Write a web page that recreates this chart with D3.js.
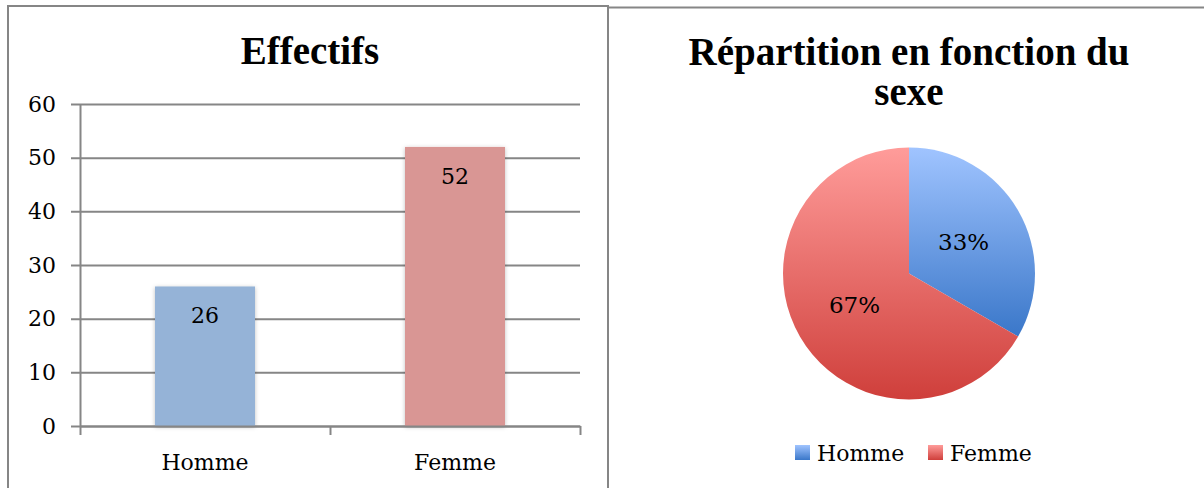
<!DOCTYPE html>
<html>
<head>
<meta charset="utf-8">
<script src="https://cdn.jsdelivr.net/npm/d3@7"></script>
<style>
  body { margin: 0; background: #fff; }
  text { font-family: "DejaVu Serif", serif; }
  .title { font-family: "Liberation Serif", "Times New Roman", serif; }
</style>
</head>
<body>
<script>
// data
var categories = ["Homme", "Femme"];
var effectifs = [26, 52];
var yTicks = [0, 10, 20, 30, 40, 50, 60];
var barColors = ["#95B3D7", "#D99694"];
var pieTop = ["#A0C4FF", "#FF9C9A"];
var pieBottom = ["#3A77C9", "#CF3F3B"];

var width = 1204, height = 488;
var labelSize = "22px";

var svg = d3.select("body").append("svg")
  .attr("width", width)
  .attr("height", height);

var defs = svg.append("defs");

// shadow under the bars
var shadow = defs.append("filter").attr("id", "shadow")
  .attr("x", "-10%").attr("y", "-10%").attr("width", "120%").attr("height", "120%");
shadow.append("feDropShadow")
  .attr("dx", 0).attr("dy", 1)
  .attr("stdDeviation", 2)
  .attr("flood-color", "#000")
  .attr("flood-opacity", 0.25);

// gradients for pie and legend
categories.forEach(function(c, i) {
  var g = defs.append("linearGradient").attr("id", "grad" + i)
    .attr("x1", 0).attr("y1", 0).attr("x2", 0).attr("y2", 1);
  g.append("stop").attr("offset", "0%").attr("stop-color", pieTop[i]);
  g.append("stop").attr("offset", "100%").attr("stop-color", pieBottom[i]);
});

// panel frames
svg.append("path")
  .attr("d", "M8,492 L8,6 L608,6 L608,492")
  .attr("fill", "none").attr("stroke", "#868686").attr("stroke-width", 2);
svg.append("path")
  .attr("d", "M608,7.5 L1210,7.5")
  .attr("fill", "none").attr("stroke", "#868686").attr("stroke-width", 2);

// ---------- bar chart ----------
var x0 = 80, x1 = 580, yZero = 426, yTop = 104;

var xScale = d3.scaleBand()
  .domain(categories)
  .range([x0, x1])
  .paddingInner(0.6)
  .paddingOuter(0.3);

var yScale = d3.scaleLinear()
  .domain([0, 60])
  .range([yZero, yTop]);

svg.append("text")
  .attr("class", "title")
  .attr("x", 310).attr("y", 64)
  .attr("text-anchor", "middle")
  .style("font-size", "39px").style("font-weight", "bold")
  .text("Effectifs");

// gridlines and y axis
var yAxis = d3.axisLeft(yScale)
  .tickValues(yTicks)
  .tickSize(-(x1 - x0))
  .tickSizeOuter(0)
  .tickPadding(24);

var gy = svg.append("g")
  .attr("transform", "translate(" + x0 + ",0)")
  .call(yAxis);
gy.select(".domain").attr("stroke", "#868686").attr("stroke-width", 2);
gy.selectAll(".tick line")
  .attr("x1", -9)
  .attr("stroke", "#868686").attr("stroke-width", 2);
gy.selectAll(".tick text")
  .style("font-size", labelSize).style("font-family", "DejaVu Serif")
  .attr("fill", "#000");

// bars
svg.selectAll("rect.bar")
  .data(effectifs)
  .enter()
  .append("rect")
  .attr("class", "bar")
  .attr("x", function(d, i) { return xScale(categories[i]); })
  .attr("y", function(d) { return yScale(d); })
  .attr("width", xScale.bandwidth())
  .attr("height", function(d) { return yZero - yScale(d); })
  .attr("fill", function(d, i) { return barColors[i]; })
  .attr("filter", "url(#shadow)");

// bar value labels
svg.selectAll("text.val")
  .data(effectifs)
  .enter()
  .append("text")
  .attr("class", "val")
  .attr("x", function(d, i) { return xScale(categories[i]) + xScale.bandwidth() / 2; })
  .attr("y", function(d) { return yScale(d) + 37; })
  .attr("text-anchor", "middle")
  .style("font-size", labelSize)
  .text(function(d) { return d; });

// x axis
var xAxisLine = d3.scaleLinear().domain([0, 2]).range([x0, x1]);
var gx = svg.append("g")
  .attr("transform", "translate(0," + yZero + ")")
  .call(d3.axisBottom(xAxisLine).tickValues([0, 1, 2]).tickSize(9).tickSizeOuter(0).tickFormat(""));
gx.select(".domain").attr("stroke", "#868686").attr("stroke-width", 2);
gx.selectAll(".tick line").attr("stroke", "#868686").attr("stroke-width", 2);

svg.selectAll("text.cat")
  .data(categories)
  .enter()
  .append("text")
  .attr("class", "cat")
  .attr("x", function(d) { return xScale(d) + xScale.bandwidth() / 2; })
  .attr("y", 470)
  .attr("text-anchor", "middle")
  .style("font-size", labelSize)
  .text(function(d) { return d; });

// ---------- pie chart ----------
var cx = 909, cy = 273.5, radius = 126;

svg.append("text")
  .attr("class", "title")
  .attr("x", cx).attr("y", 65)
  .attr("text-anchor", "middle")
  .style("font-size", "39px").style("font-weight", "bold")
  .text("Répartition en fonction du");
svg.append("text")
  .attr("class", "title")
  .attr("x", cx).attr("y", 105)
  .attr("text-anchor", "middle")
  .style("font-size", "39px").style("font-weight", "bold")
  .text("sexe");

var total = d3.sum(effectifs);
var pie = d3.pie().sort(null)(effectifs);
var arc = d3.arc().innerRadius(0).outerRadius(radius);

var gp = svg.append("g").attr("transform", "translate(" + cx + "," + cy + ")");

gp.selectAll("path")
  .data(pie)
  .enter()
  .append("path")
  .attr("d", arc)
  .attr("fill", function(d, i) { return "url(#grad" + i + ")"; });

gp.selectAll("text")
  .data(pie)
  .enter()
  .append("text")
  .attr("transform", function(d) {
    var c = arc.centroid(d);
    return "translate(" + c[0] + "," + c[1] + ")";
  })
  .attr("text-anchor", "middle")
  .attr("dy", "0.35em")
  .style("font-size", "23px")
  .text(function(d) { return Math.round(d.value / total * 100) + "%"; });

// legend
var legendX = [795, 928];
var lg = svg.selectAll("g.legend")
  .data(categories)
  .enter()
  .append("g")
  .attr("class", "legend")
  .attr("transform", function(d, i) { return "translate(" + legendX[i] + ",445)"; });

lg.append("rect")
  .attr("width", 15).attr("height", 15)
  .attr("fill", function(d, i) { return "url(#grad" + i + ")"; });

lg.append("text")
  .attr("x", 22).attr("y", 16)
  .style("font-size", labelSize)
  .text(function(d) { return d; });
</script>
</body>
</html>
